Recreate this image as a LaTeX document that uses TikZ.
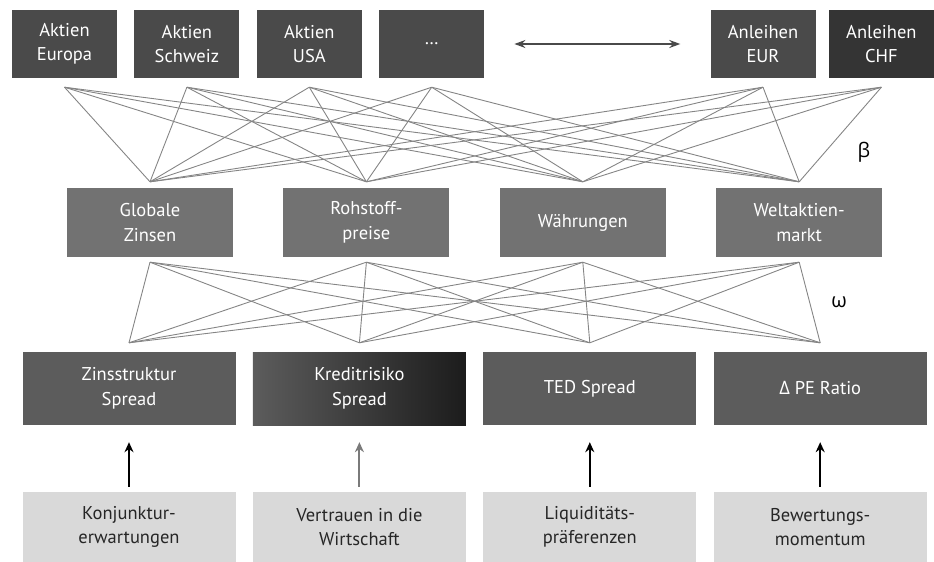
\documentclass[tikz,border=0pt]{standalone}
\usepackage{fontspec}
\setmainfont{PT Sans}
\newfontfamily\grkfont{Open Sans}
\usetikzlibrary{arrows.meta,positioning}
\definecolor{TopGrey}{HTML}{4A4A4A}
\definecolor{TopDark}{HTML}{343434}
\definecolor{MidGrey}{HTML}{727272}
\definecolor{LowGrey}{HTML}{5C5C5C}
\definecolor{KredDark}{HTML}{1C1C1C}
\definecolor{BaseGrey}{HTML}{D9D9D9}
\definecolor{WireGrey}{HTML}{858585}
\definecolor{ArrowGrey}{HTML}{7A7A7A}

\begin{document}
\begin{tikzpicture}[x=1pt, y=-1pt, node distance=17pt,
  top/.style={fill=TopGrey, text=white, minimum width=105pt, minimum height=68pt,
              align=center, inner sep=2pt, font=\fontsize{18.5}{24.5}\selectfont},
  topdark/.style={top, fill=TopDark},
  mid/.style={fill=MidGrey, text=white, minimum width=166pt, minimum height=69pt,
              align=center, inner sep=2pt, font=\fontsize{18.5}{24.5}\selectfont},
  low/.style={fill=LowGrey, text=white, minimum width=213pt, minimum height=73pt,
              align=center, inner sep=2pt, font=\fontsize{18.5}{24.5}\selectfont},
  lowshade/.style={left color=LowGrey, middle color=LowGrey!85!black,
              right color=KredDark, text=white,
              minimum width=213pt, minimum height=73pt,
              align=center, inner sep=2pt, font=\fontsize{18.5}{24.5}\selectfont},
  base/.style={fill=BaseGrey, text=black!85, minimum width=213pt, minimum height=70pt,
              align=center, inner sep=2pt, font=\fontsize{18.5}{24.5}\selectfont},
  wire/.style={draw=WireGrey, line width=0.9pt},
  up/.style={-{Stealth[length=10pt,width=9pt]}, line width=2pt,
             shorten <=5pt, shorten >=17pt},
  greek/.style={font=\grkfont\fontsize{20}{24}\selectfont}]
  \useasboundingbox (0,0) rectangle (934,562);

  % asset classes
  \node[top] (ae) at (64.5,44) {Aktien\\Europa};
  \node[top, right=of ae] (as) {Aktien\\Schweiz};
  \node[top, right=of as] (au) {Aktien\\USA};
  \node[top, right=of au] (ax) {\dots};
  \node[top] (ne) at (763,44) {Anleihen\\EUR};
  \node[topdark, right=13pt of ne] (nc) {Anleihen\\CHF};
  \draw[{Stealth[length=11pt,width=8pt]}-{Stealth[length=11pt,width=8pt]},
        line width=1.6pt, TopGrey, shorten <=30pt, shorten >=30pt] (ax.east) -- (ne.west);

  % global factors
  \node[mid] (gz) at (150,222.5) {Globale\\Zinsen};
  \node[mid, right=50pt of gz] (rp) {Rohstoff-\\preise};
  \node[mid, right=50pt of rp] (wg) {Währungen};
  \node[mid, right=50pt of wg] (wm) {Weltaktien-\\markt};

  % spreads
  \node[low] (zs) at (129,388.5) {Zinsstruktur\\Spread};
  \node[lowshade, right=of zs] (kr) {Kreditrisiko\\Spread};
  \node[low, right=of kr] (ted) {TED Spread};
  \node[low, right=of ted] (pe) {{\grkfont Δ} PE Ratio};

  % drivers
  \node[base] (kj) at (129,527) {Konjunktur-\\erwartungen};
  \node[base, right=of kj] (vw) {Vertrauen in die\\Wirtschaft};
  \node[base, right=of vw] (lq) {Liquiditäts-\\präferenzen};
  \node[base, right=of lq] (bm) {Bewertungs-\\momentum};

  \draw[up] (kj.north) -- (zs.south);
  \draw[up, ArrowGrey] (vw.north) -- (kr.south);
  \draw[up] (lq.north) -- (ted.south);
  \draw[up] (bm.north) -- (pe.south);

  % beta weights
  \foreach \n [count=\i] in {ae,as,au,ax,ne,nc}
    \coordinate (a\i) at ([yshift=-9pt]\n.south);
  \foreach \n [count=\j] in {gz,rp,wg,wm} {
    \coordinate (b\j) at ([yshift=6pt]\n.north);
    \coordinate (c\j) at ([yshift=-5pt]\n.south);
  }
  \foreach \n [count=\j] in {zs,kr,ted,pe}
    \coordinate (d\j) at ([yshift=9pt]\n.north);
  \foreach \i in {1,...,6}
    \foreach \j in {1,...,4}
      \draw[wire] (a\i) -- (b\j);

  % omega weights
  \foreach \i in {1,...,4}
    \foreach \j in {1,...,4}
      \draw[wire] (c\i) -- (d\j);

  \node[greek] (beta) at (864,152) {β};
  \node[greek] (omega) at (839,302) {ω};
\end{tikzpicture}
\end{document}
